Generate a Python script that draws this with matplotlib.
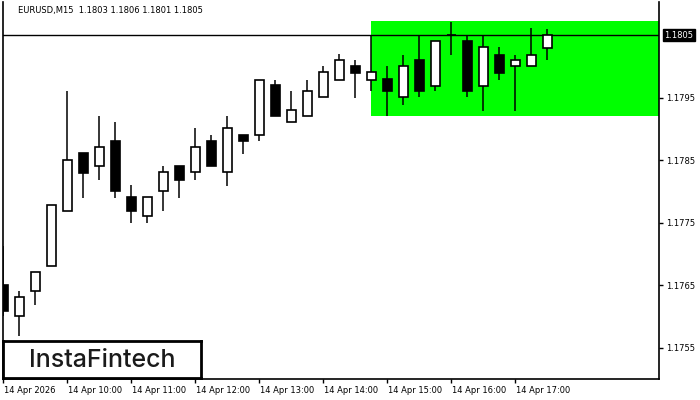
import matplotlib
matplotlib.use("Agg")
import matplotlib.pyplot as plt
import matplotlib.patches as patches
import matplotlib.transforms as mtransforms
import numpy as np

# EURUSD M15, 14 Apr 2026, 09:00 .. 17:30
opens = [1.17650, 1.17600, 1.17640, 1.17680, 1.17769, 1.17862, 1.17840, 1.17881,
         1.17791, 1.17760, 1.17800, 1.17841, 1.17831, 1.17881, 1.17831, 1.17890,
         1.17890, 1.17970, 1.17911, 1.17920, 1.17951, 1.17979, 1.18000, 1.17979,
         1.17980, 1.17951, 1.18010, 1.17969, 1.18050, 1.18040, 1.17969, 1.18019,
         1.18000, 1.18000, 1.18030]
highs = [1.17712, 1.17641, 1.17671, 1.17779, 1.17961, 1.17862, 1.17921, 1.17911,
         1.17810, 1.17791, 1.17841, 1.17841, 1.17901, 1.17890, 1.17921, 1.17890,
         1.17979, 1.17979, 1.17961, 1.17979, 1.18001, 1.18020, 1.18010, 1.18050,
         1.18001, 1.18019, 1.18049, 1.18040, 1.18071, 1.18049, 1.18049, 1.18031,
         1.18019, 1.18061, 1.18060]
lows = [1.17600, 1.17569, 1.17619, 1.17680, 1.17769, 1.17790, 1.17819, 1.17790,
        1.17750, 1.17750, 1.17769, 1.17790, 1.17819, 1.17840, 1.17809, 1.17860,
        1.17880, 1.17920, 1.17911, 1.17920, 1.17951, 1.17979, 1.17950, 1.17960,
        1.17920, 1.17939, 1.17951, 1.17960, 1.18019, 1.17951, 1.17929, 1.17979,
        1.17929, 1.18000, 1.18010]
closes = [1.17609, 1.17631, 1.17671, 1.17779, 1.17850, 1.17830, 1.17871, 1.17800,
          1.17769, 1.17791, 1.17831, 1.17819, 1.17871, 1.17840, 1.17901, 1.17880,
          1.17979, 1.17920, 1.17930, 1.17960, 1.17991, 1.18010, 1.17990, 1.17991,
          1.17960, 1.18000, 1.17960, 1.18040, 1.18050, 1.17960, 1.18031, 1.17990,
          1.18010, 1.18019, 1.18050]

x_labels = ["14 Apr 2026", "14 Apr 10:00", "14 Apr 11:00", "14 Apr 12:00",
            "14 Apr 13:00", "14 Apr 14:00", "14 Apr 15:00", "14 Apr 16:00",
            "14 Apr 17:00"]
y_ticks = [1.1755, 1.1765, 1.1775, 1.1785, 1.1795]
last_price = 1.1805
title = "EURUSD,M15  1.1803 1.1806 1.1801 1.1805"

# pattern zone (rectangle)
zone_start = 23
zone_top = 1.18072
zone_bottom = 1.17921

fig = plt.figure(figsize=(7, 4), dpi=100)
ax = fig.add_axes([3 / 700, 21 / 400, 656 / 700, 377 / 400])

o = np.array(opens)
h = np.array(highs)
l = np.array(lows)
c = np.array(closes)
idx = np.arange(len(o))

ax.set_xlim(-0.02, 40.98)
ax.set_ylim(1.17500, 1.18103)

# green zone
ax.add_patch(patches.Rectangle((zone_start, zone_bottom), 41 - zone_start,
                               zone_top - zone_bottom, facecolor="#00ff00",
                               edgecolor="none", zorder=1))
ax.axhline(last_price, color="black", lw=1, zorder=2)

# candles
ax.vlines(idx, l, h, color="black", lw=1.1, zorder=3)
up = c >= o
body_bottom = np.minimum(o, c)
body_h = np.maximum(np.abs(c - o), 0.000005)
ax.bar(idx[up], body_h[up], bottom=body_bottom[up], width=0.58,
       facecolor="white", edgecolor="black", lw=1.2, zorder=4)
ax.bar(idx[~up], body_h[~up], bottom=body_bottom[~up], width=0.58,
       facecolor="black", edgecolor="black", lw=1.2, zorder=4)

# axes styling
ax.spines["top"].set_visible(False)
for side in ["left", "right", "bottom"]:
    ax.spines[side].set_linewidth(1.2)

ax.yaxis.tick_right()
ax.set_yticks(y_ticks)
ax.set_yticklabels(["%.4f" % v for v in y_ticks])
ax.tick_params(axis="y", length=3, width=1, labelsize=6, pad=2)

ax.set_xticks(np.arange(0, 33, 4))
ax.set_xticklabels(x_labels, ha="left")
ax.tick_params(axis="x", length=3, width=1, labelsize=6, pad=2)

# labels sit just right of their tick
offset = mtransforms.ScaledTranslation(1 / 100, 0, fig.dpi_scale_trans)
for lab in ax.get_xticklabels():
    lab.set_transform(lab.get_transform() + offset)

# last price label
ax.annotate("%.4f" % last_price, xy=(1.0, last_price),
            xycoords=("axes fraction", "data"), xytext=(4, 0),
            textcoords="offset points", ha="left", va="center", fontsize=6,
            color="white",
            bbox=dict(boxstyle="square,pad=0.2", facecolor="black", edgecolor="black"))

fig.text(18 / 700, 1 - 10 / 400, title, fontsize=6, ha="left", va="center")

# logo
ax_logo = fig.add_axes([3 / 700, 22 / 400, 198 / 700, 37 / 400])
ax_logo.set_xticks([])
ax_logo.set_yticks([])
for s in ax_logo.spines.values():
    s.set_linewidth(2)
ax_logo.text(0.5, 0.47, "InstaFintech", fontsize=18, family="Inter", weight="medium",
             ha="center", va="center", color="#1a1a1a", transform=ax_logo.transAxes)

fig.savefig("out.png", dpi=100)
